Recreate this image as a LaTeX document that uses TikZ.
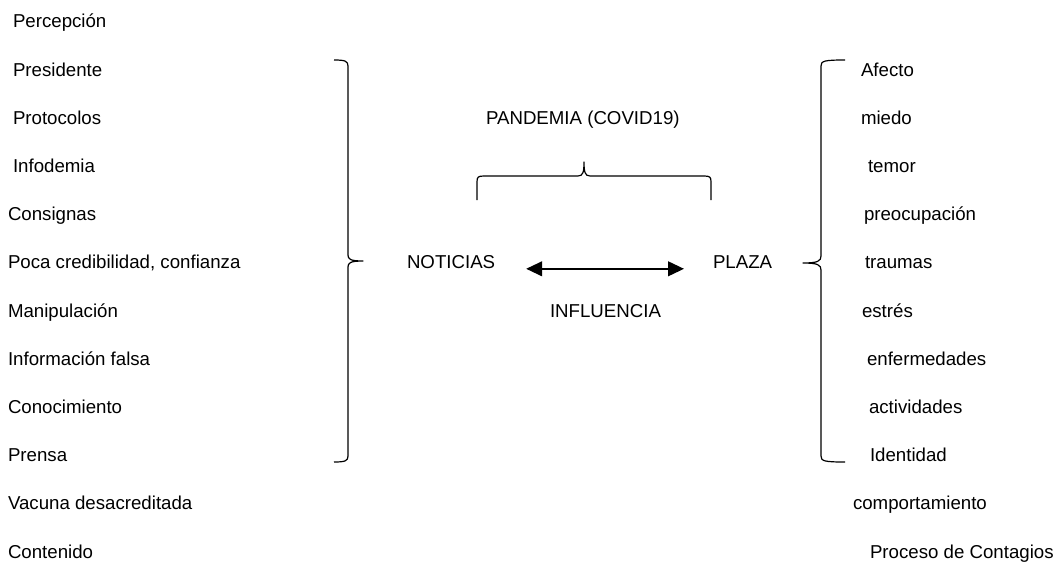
\documentclass[tikz,border=0pt]{standalone}
\usepackage{fontspec}
\setmainfont{Liberation Sans}
\usetikzlibrary{calc,arrows.meta}
\tikzset{
  lbl/.style={anchor=base west,inner sep=0pt,outer sep=0pt,font=\fontsize{14}{16}\selectfont},
  bracepath/.style={draw=black,line width=0.9pt,line join=round},
  dbl/.style={line width=1.6pt,{Triangle[length=12pt,width=11pt]}-{Triangle[length=12pt,width=11pt]}}
}
\begin{document}
\begin{tikzpicture}[x=0.75pt,y=-0.75pt]
\useasboundingbox[fill=white] (0,0) rectangle (1057,561);
% left column
\node[lbl] (l1) at (13,27.7) {Percepción};
\node[lbl] (l2) at (13,76) {Presidente};
\node[lbl] (l3) at (13,124.2) {Protocolos};
\node[lbl] (l4) at (13,172.4) {Infodemia};
\node[lbl] (l5) at (8,220.6) {Consignas};
\node[lbl] (l6) at (8,268.8) {Poca credibilidad, confianza};
\node[lbl] (l7) at (8,317) {Manipulación};
\node[lbl] (l8) at (8,365.2) {Información falsa};
\node[lbl] (l9) at (8,413.4) {Conocimiento};
\node[lbl] (l10) at (8,461.6) {Prensa};
\node[lbl] (l11) at (8,509.8) {Vacuna desacreditada};
\node[lbl] (l12) at (8,558) {Contenido};
% right column
\node[lbl] (r1) at (861,76) {Afecto};
\node[lbl] (r2) at (861,124.2) {miedo};
\node[lbl] (r3) at (868,172.4) {temor};
\node[lbl] (r4) at (864,220.6) {preocupación};
\node[lbl] (r5) at (865,268.8) {traumas};
\node[lbl] (r6) at (862,317) {estrés};
\node[lbl] (r7) at (867,365.2) {enfermedades};
\node[lbl] (r8) at (869,413.4) {actividades};
\node[lbl] (r9) at (870,461.6) {Identidad};
\node[lbl] (r10) at (853,509.8) {comportamiento};
\node[lbl] (r11) at (870,558) {Proceso de Contagios};
% center
\node[lbl] (pand) at (486,124.2) {PANDEMIA (COVID19)};
\node[lbl] (noticias) at (407,268.8) {NOTICIAS};
\node[lbl] (plaza) at (713,268.8) {PLAZA};
\node[lbl] (infl) at (550,317) {INFLUENCIA};
\draw[dbl] ($(noticias.base east)+(31,0)$) -- ($(plaza.base west)+(-29,0)$);
% left brace (tip right)
\draw[bracepath] (334,60) .. controls (345,60) and (348,61) .. (348,66) -- (348,255)
  .. controls (348,259) and (350,261) .. (363,261)
  .. controls (350,261) and (348,263) .. (348,267) -- (348,456)
  .. controls (348,461) and (345,462) .. (334,462);
% right brace (tip left)
\draw[bracepath] (845,60) .. controls (824,60) and (821,61) .. (821,66) -- (821,256)
  .. controls (821,261) and (818,263) .. (803,263)
  .. controls (818,263) and (821,265) .. (821,270) -- (821,456)
  .. controls (821,461) and (824,462) .. (845,462);
% top brace (tip up)
\draw[bracepath] (477,200) -- (477,182) .. controls (477,177) and (478,176) .. (484,176) -- (578,176)
  .. controls (583,176) and (584,172) .. (584,162)
  .. controls (584,172) and (585,176) .. (590,176) -- (704,176)
  .. controls (710,176) and (711,177) .. (711,182) -- (711,200);
\end{tikzpicture}
\end{document}
